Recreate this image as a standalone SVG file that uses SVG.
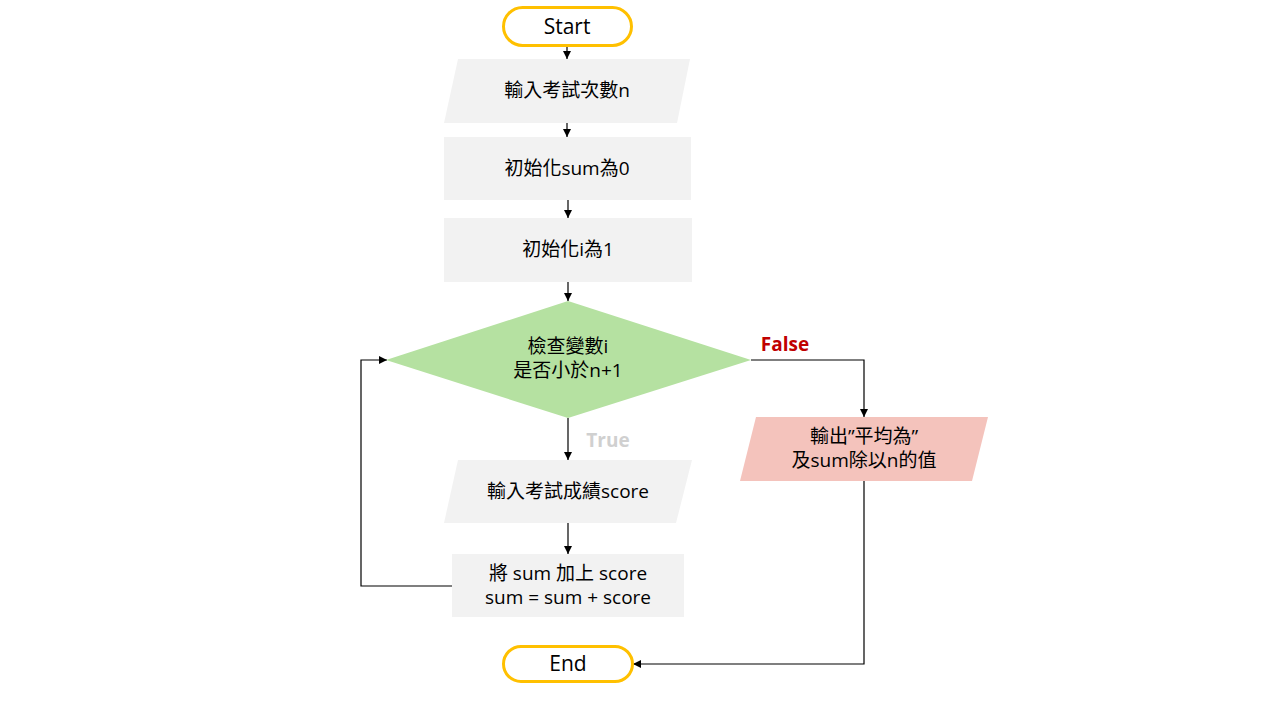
<svg xmlns="http://www.w3.org/2000/svg" width="1280" height="720" viewBox="0 0 1280 720">
  <defs>
    <marker id="arrow" viewBox="0 0 10 10" refX="10" refY="5" markerWidth="8" markerHeight="8" markerUnits="userSpaceOnUse" orient="auto">
      <path d="M0,0 L10,5 L0,10 z" fill="#000"/>
    </marker>
    <style>
      text { font-family: "Open Sans", "Noto Sans CJK TC", sans-serif; font-size: 19px; fill: #000; text-anchor: middle; dominant-baseline: central; }
      .term { fill: #fff; stroke: #FFC000; stroke-width: 3; }
      .proc { fill: #F2F2F2; }
      .out { fill: #F4C3BC; }
      .dec { fill: #B5E1A1; }
      .conn { fill: none; stroke: #000; stroke-width: 1.2; }
      .lbl-false { fill: #C00000; font-weight: bold; font-size: 19px; }
      .lbl-true { fill: #D0D0D0; font-weight: bold; font-size: 19px; }
      .big { font-size: 21px; }
    </style>
  </defs>
  <rect width="1280" height="720" fill="#fff"/>

  <!-- connectors -->
  <g id="connectors">
    <line class="conn" x1="567" y1="46" x2="567" y2="59" marker-end="url(#arrow)"/>
    <line class="conn" x1="567" y1="123" x2="567" y2="137" marker-end="url(#arrow)"/>
    <line class="conn" x1="568" y1="200" x2="568" y2="218" marker-end="url(#arrow)"/>
    <line class="conn" x1="568" y1="282" x2="568" y2="301" marker-end="url(#arrow)"/>
    <line class="conn" x1="568" y1="418" x2="568" y2="460" marker-end="url(#arrow)"/>
    <line class="conn" x1="568" y1="523" x2="568" y2="554" marker-end="url(#arrow)"/>
    <polyline class="conn" points="751,360 864,360 864,417" marker-end="url(#arrow)"/>
    <polyline class="conn" points="864,481 864,664 633,664" marker-end="url(#arrow)"/>
    <polyline class="conn" points="452,586 361,586 361,360 387,360" marker-end="url(#arrow)"/>
    <text class="lbl-false" x="785" y="344">False</text>
    <text class="lbl-true" x="608" y="440">True</text>
  </g>

  <g id="start">
    <rect class="term" x="503.5" y="7.5" width="128" height="38" rx="19"/>
    <text class="big" x="567" y="26">Start</text>
  </g>

  <g id="input-n">
    <polygon class="proc" points="458,59 690,59 677,123 444,123"/>
    <text x="567" y="90">輸入考試次數n</text>
  </g>

  <g id="init-sum">
    <rect class="proc" x="444" y="137" width="247" height="63"/>
    <text x="567" y="168">初始化sum為0</text>
  </g>

  <g id="init-i">
    <rect class="proc" x="444" y="218" width="248" height="64"/>
    <text x="568" y="249">初始化i為1</text>
  </g>

  <g id="check-i">
    <polygon class="dec" points="568,301 751,360 568,418 386,360"/>
    <text x="568" y="346">檢查變數i</text>
    <text x="568" y="370">是否小於n+1</text>
  </g>

  <g id="output-avg">
    <polygon class="out" points="756,417 988,417 972,481 740,481"/>
    <text x="864" y="436">輸出”平均為”</text>
    <text x="864" y="460">及sum除以n的值</text>
  </g>

  <g id="input-score">
    <polygon class="proc" points="458,460 692,460 676,523 444,523"/>
    <text x="568" y="491">輸入考試成績score</text>
  </g>

  <g id="add-score">
    <rect class="proc" x="452" y="554" width="232" height="63"/>
    <text x="568" y="573">將 sum 加上 score</text>
    <text x="568" y="597">sum = sum + score</text>
  </g>

  <g id="end">
    <rect class="term" x="503.5" y="646.5" width="129" height="35" rx="17.5"/>
    <text class="big" x="568" y="663">End</text>
  </g>
</svg>
